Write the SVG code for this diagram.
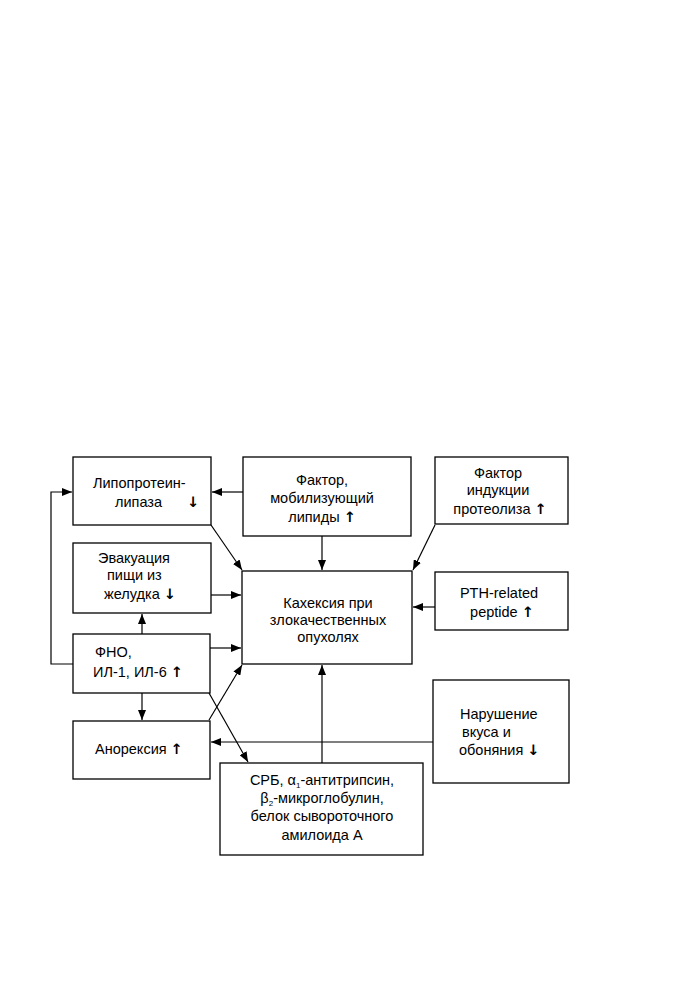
<svg xmlns="http://www.w3.org/2000/svg" width="673" height="998" viewBox="0 0 673 998">
<defs>
<marker id="ah" viewBox="0 0 10 8" refX="10" refY="4" markerWidth="10" markerHeight="8" markerUnits="userSpaceOnUse" orient="auto">
<path d="M0,0 L10,4 L0,8 Z" fill="#000"/>
</marker>
</defs>
<style>
.box{fill:#fff;stroke:#000;stroke-width:1.3}
.t{font-family:"Liberation Sans",Arial,sans-serif;font-size:14.5px;fill:#000}
.m{text-anchor:middle}
.ar{font-family:"DejaVu Sans",sans-serif;font-size:14.5px;font-weight:bold}
.c{fill:none;stroke:#000;stroke-width:1.2}
</style>
<rect width="673" height="998" fill="#fff"/>
<g id="connectors">
<path class="c" d="M73,664 H51 V492 H72" marker-end="url(#ah)"/>
<path class="c" d="M243,492 H212" marker-end="url(#ah)"/>
<path class="c" d="M211,525 L242,570" marker-end="url(#ah)"/>
<path class="c" d="M322,536 V570" marker-end="url(#ah)"/>
<path class="c" d="M435,525 L413,570" marker-end="url(#ah)"/>
<path class="c" d="M435,607 H413" marker-end="url(#ah)"/>
<path class="c" d="M211,595 H241" marker-end="url(#ah)"/>
<path class="c" d="M142,634 V614" marker-end="url(#ah)"/>
<path class="c" d="M210,648 H241" marker-end="url(#ah)"/>
<path class="c" d="M142,693 V720" marker-end="url(#ah)"/>
<path class="c" d="M209,720 L242,665" marker-end="url(#ah)"/>
<path class="c" d="M209,693 L248,762" marker-end="url(#ah)"/>
<path class="c" d="M433,742 H211" marker-end="url(#ah)"/>
<path class="c" d="M322,763 V665" marker-end="url(#ah)"/>
</g>
<g id="lipoprotein">
<rect class="box" x="73" y="457" width="138" height="68"/>
<text class="t" x="93" y="488">Липопротеин-</text>
<text class="t" x="115" y="507">липаза<tspan class="ar" x="187">↓</tspan></text>
</g>
<g id="factor-lipids">
<rect class="box" x="243" y="457" width="168" height="79"/>
<text class="t m" x="322" y="485">Фактор,</text>
<text class="t m" x="322" y="503">мобилизующий</text>
<text class="t m" x="322" y="522">липиды <tspan class="ar">↑</tspan></text>
</g>
<g id="factor-proteolysis">
<rect class="box" x="435" y="457" width="133" height="67"/>
<text class="t m" x="498" y="478">Фактор</text>
<text class="t m" x="498" y="495">индукции</text>
<text class="t m" x="500" y="514">протеолиза <tspan class="ar">↑</tspan></text>
</g>
<g id="evacuation">
<rect class="box" x="73" y="543" width="138" height="70"/>
<text class="t" x="98" y="563">Эвакуация</text>
<text class="t" x="107" y="580">пищи из</text>
<text class="t" x="104" y="599">желудка <tspan class="ar">↓</tspan></text>
</g>
<g id="cachexia">
<rect class="box" x="242" y="571" width="170" height="93"/>
<text class="t m" x="328" y="608">Кахексия при</text>
<text class="t m" x="328" y="625">злокачественных</text>
<text class="t m" x="328" y="642">опухолях</text>
</g>
<g id="pth">
<rect class="box" x="435" y="572" width="133" height="58"/>
<text class="t m" x="499" y="598">PTH-related</text>
<text class="t m" x="502" y="617">peptide <tspan class="ar">↑</tspan></text>
</g>
<g id="tnf">
<rect class="box" x="73" y="634" width="137" height="59"/>
<text class="t" x="95" y="657">ФНО,</text>
<text class="t" x="93" y="677">ИЛ-1, ИЛ-6 <tspan class="ar">↑</tspan></text>
</g>
<g id="anorexia">
<rect class="box" x="73" y="721" width="137" height="58"/>
<text class="t" x="95" y="754">Анорексия <tspan class="ar">↑</tspan></text>
</g>
<g id="taste">
<rect class="box" x="433" y="680" width="136" height="103"/>
<text class="t" x="460" y="719">Нарушение</text>
<text class="t" x="462" y="737">вкуса и</text>
<text class="t" x="459" y="755">обоняния <tspan class="ar">↓</tspan></text>
</g>
<g id="proteins">
<rect class="box" x="220" y="763" width="203" height="92"/>
<text class="t m" x="322" y="785">СРБ, α<tspan font-size="8" dy="3">1</tspan><tspan dy="-3">-антитрипсин,</tspan></text>
<text class="t m" x="322" y="803">β<tspan font-size="8" dy="3">2</tspan><tspan dy="-3">-микроглобулин,</tspan></text>
<text class="t m" x="322" y="821">белок сывороточного</text>
<text class="t m" x="322" y="840">амилоида А</text>
</g>
</svg>
